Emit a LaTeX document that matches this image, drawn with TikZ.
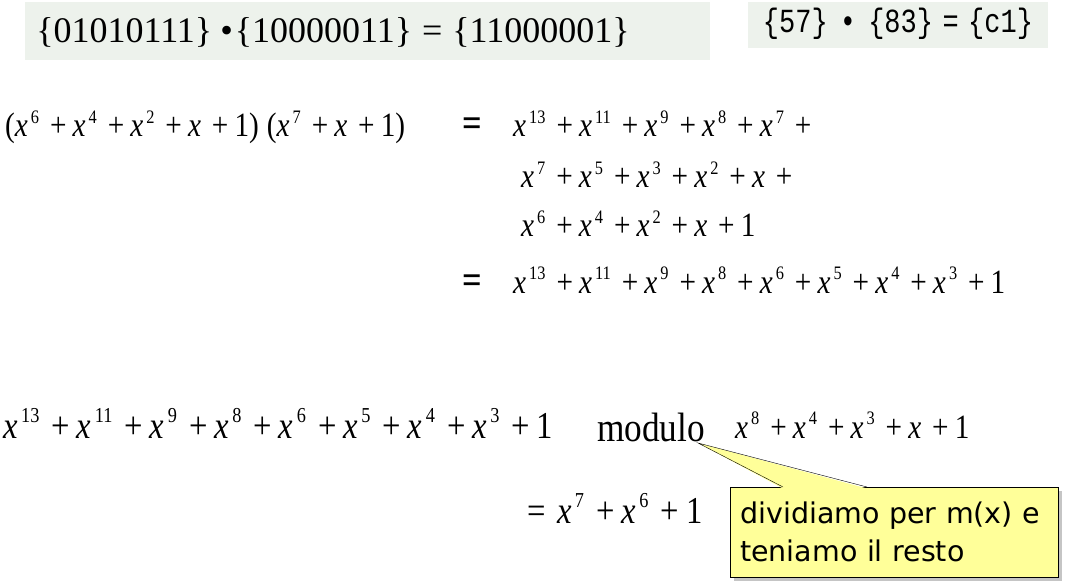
\documentclass[tikz,border=0pt]{standalone}
\usepackage{fontspec}
\setmainfont{Liberation Serif}[FakeStretch=0.86]
\newfontfamily\tetefont{Liberation Serif}
\newfontfamily\bullefont{DejaVu Sans}
\newfontfamily\codefont{Liberation Mono}
\usetikzlibrary{positioning,shadows}
\definecolor{gris}{RGB}{237,242,236}
\definecolor{jaune}{RGB}{255,255,153}
\newcommand{\xp}[1]{\textit{x}\hspace{0.09em}\raisebox{0.41em}{\scalebox{0.56}{#1}}}
\newcommand{\pl}{\hspace{0.32em}+\hspace{0.18em}}
\newcommand{\eg}{{\fontsize{40}{40}\selectfont\bfseries =}}

\begin{document}
\begin{tikzpicture}[
      x=1pt,y=-1pt,
      cadre/.style={
        fill=gris,
        inner sep=0pt,
        anchor=north west
      },
      formule/.style={
        anchor=base west,
        inner sep=0pt,
        font=\fontsize{34}{34}\selectfont
      },
      grande/.style={
        formule,
        font=\fontsize{38}{38}\selectfont
      },
      bulle/.style={
        draw=black,
        fill=jaune,
        anchor=north west,
        minimum width=328,
        minimum height=90,
        inner xsep=10pt,
        text width=308,
        align=left,
        font=\bullefont\fontsize{28.5}{38}\selectfont,
        drop shadow={shadow xshift=4pt,shadow yshift=-4pt,fill=black!45}
      }
    ]
      \useasboundingbox (0,0) rectangle (1070,585);

      \node (c1) at (25,2) [cadre,minimum width=685,minimum height=58]{};
      \node (c2) at (748,2) [cadre,minimum width=300,minimum height=46]{};
      \node (b1) at (333,32) [font=\tetefont\fontsize{36}{36}\selectfont]{\{01010111\}\hspace{8pt}•\hspace{2pt}\{10000011\}\hspace{10pt}=\hspace{10pt}\{11000001\}};
      \node (b2) at (898,24) [font=\codefont\fontsize{27}{27}\selectfont]{\scalebox{1}[1.25]{\{57\}\hspace{0.45em}\textbullet\hspace{0.45em}\{83\}\hspace{0.35em}=\hspace{0.35em}\{c1\}}};

      \node (l1) at (5,137) [formule]{(\xp{6}\pl\xp{4}\pl\xp{2}\pl\textit{x}\pl1)\hspace{8pt}(\xp{7}\pl\textit{x}\pl1)};
      \node (e1) at (462,137) [formule]{\eg};
      \node (r1) at (513,137) [formule]{\xp{13}\pl\xp{11}\pl\xp{9}\pl\xp{8}\pl\xp{7}\pl};
      \node (r2) at (521,188) [formule]{\xp{7}\pl\xp{5}\pl\xp{3}\pl\xp{2}\pl\textit{x}\pl};
      \node (r3) at (521,237) [formule]{\xp{6}\pl\xp{4}\pl\xp{2}\pl\textit{x}\pl1};
      \node (e2) at (462,293) [formule]{\eg};
      \node (r4) at (513,293) [formule]{\xp{13}\pl\xp{11}\pl\xp{9}\pl\xp{8}\pl\xp{6}\pl\xp{5}\pl\xp{4}\pl\xp{3}\pl1};

      \node (p5) at (3,438) [grande]{\xp{13}\pl\xp{11}\pl\xp{9}\pl\xp{8}\pl\xp{6}\pl\xp{5}\pl\xp{4}\pl\xp{3}\pl1};
      \node (mod) at (597,441) [formule,font=\fontsize{41}{41}\selectfont]{modulo};
      \node (m5) at (735,438) [formule]{\xp{8}\pl\xp{4}\pl\xp{3}\pl\textit{x}\pl1};
      \node (r6) at (527,523) [grande]{=\hspace{0.3em}\xp{7}\pl\xp{6}\pl1};

      \node (t1) at (730,487) [bulle]{dividiamo per m(x) e\\teniamo il resto};
      \coordinate (pointe) at (698,443);
      \fill[jaune] ([shift={(53,1.5)}]t1.north west) -- (pointe) -- ([shift={(137,1.5)}]t1.north west) -- cycle;
      \draw[black] ([xshift=53]t1.north west) -- (pointe) -- ([xshift=137]t1.north west);

    \end{tikzpicture}
\end{document}
